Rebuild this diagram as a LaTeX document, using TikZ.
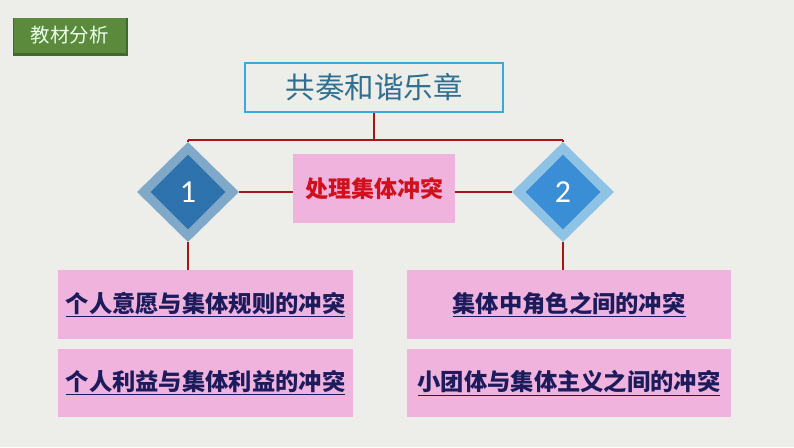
\documentclass[tikz,border=0pt]{standalone}
\usepackage{fontspec}
\setmainfont{Noto Sans CJK SC}
\newfontfamily\numfont{Carlito}
\usetikzlibrary{shapes.geometric}
\definecolor{bgc}{HTML}{EDEDE9}
\definecolor{tagc}{HTML}{5B8A3C}
\definecolor{tagd}{HTML}{3F6A2A}
\definecolor{titleb}{HTML}{3AAAD9}
\definecolor{titlet}{HTML}{2F6F8F}
\definecolor{linec}{HTML}{A5151A}
\definecolor{pinkc}{HTML}{EFB3DD}
\definecolor{redt}{HTML}{D0101C}
\definecolor{navyt}{HTML}{1C1C5C}
\definecolor{d1o}{HTML}{80A9C9}
\definecolor{d1i}{HTML}{2E72AE}
\definecolor{d2o}{HTML}{8EC3E6}
\definecolor{d2i}{HTML}{3A8ED6}
\newcommand{\uln}[1]{\underline{#1}}
\tikzset{
  conn/.style={draw=linec, line width=1.4pt},
  itemtext/.style={text=navyt, font=\fontsize{23.3}{26}\selectfont\bfseries},
  outerdia/.style={diamond, draw=none, inner sep=0pt, minimum width=102pt, minimum height=100pt, aspect=1},
  innerdia/.style={diamond, draw=none, inner sep=0pt, minimum width=75pt, minimum height=75pt, aspect=1, text=white, font=\numfont\fontsize{32}{34}\selectfont},
}
\begin{document}
\begin{tikzpicture}[x=1pt,y=-1pt]
\fill[bgc] (0,0) rectangle (794,447);
\useasboundingbox (0,0) rectangle (794,447);
% tag
\fill[tagd] (13,18) rectangle (128,56);
\node[fill=tagc, minimum width=112pt, minimum height=35pt, inner sep=0pt, text=white!92!green, font=\fontsize{19.5}{22}\selectfont] (tag) at (69.5,35.5) {教材分析};
% title
\node[draw=titleb, line width=1.5pt, fill=bgc, minimum width=258pt, minimum height=49pt, inner sep=0pt, text=titlet, font=\fontsize{29.5}{32}\selectfont] (title) at (374,87.5) {共奏和谐乐章};
\coordinate (j) at (374,140);
\coordinate (jl) at (188,140);
\coordinate (jr) at (563,140);
% diamonds
\node[outerdia, fill=d1o] (d1o) at (188,192) {};
\node[innerdia, fill=d1i] (d1) at (188,192) {1};
\node[outerdia, fill=d2o] (d2o) at (563,192) {};
\node[innerdia, fill=d2i] (d2) at (563,192) {2};
% middle box
\node[fill=pinkc, minimum width=162pt, minimum height=69pt, inner sep=0pt, text=redt, font=\fontsize{23}{26}\selectfont\bfseries] (mid) at (374,188.5) {处理集体冲突};
% boxes
\node[fill=pinkc, minimum width=295pt, minimum height=69pt, inner sep=0pt, itemtext] (l1) at (205.5,304.5) {\uln{个人意愿与集体规则的冲突}};
\node[fill=pinkc, minimum width=295pt, minimum height=68pt, inner sep=0pt, itemtext] (l2) at (205.5,383) {\uln{个人利益与集体利益的冲突}};
\node[fill=pinkc, minimum width=324pt, minimum height=69pt, inner sep=0pt, itemtext] (r1) at (569,304.5) {\uln{集体中角色之间的冲突}};
\node[fill=pinkc, minimum width=324pt, minimum height=68pt, inner sep=0pt, itemtext] (r2) at (569,383) {\uln{小团体与集体主义之间的冲突}};
% connectors
\draw[conn] (title.south) -- (j);
\draw[conn] (jl) -- (jr);
\draw[conn] (jl) -- (d1o.north);
\draw[conn] (jr) -- (d2o.north);
\draw[conn] (d1o.east) -- (d1o.east -| mid.west);
\draw[conn] (d2o.west -| mid.east) -- (d2o.west);
\draw[conn] (d1o.south) -- (l1.north -| d1o.south);
\draw[conn] (d2o.south) -- (r1.north -| d2o.south);
\end{tikzpicture}
\end{document}
